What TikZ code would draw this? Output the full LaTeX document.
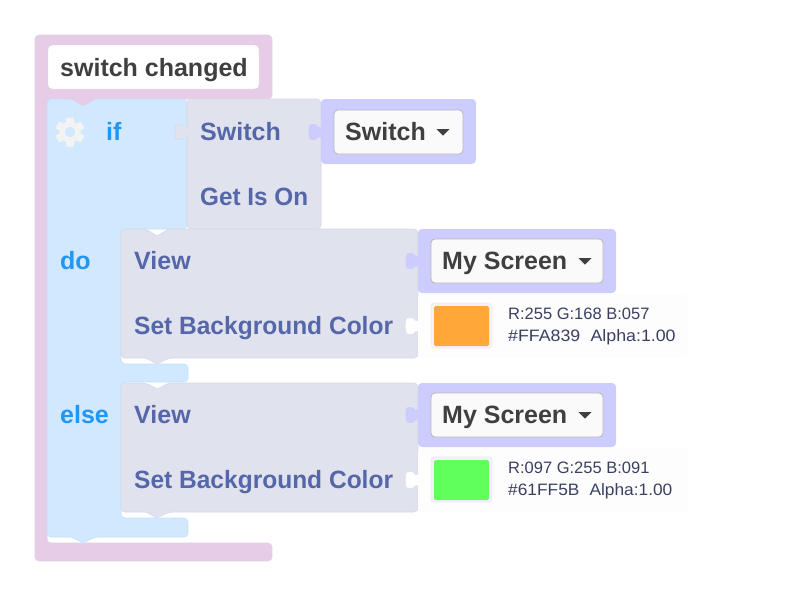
\documentclass[tikz,border=0pt]{standalone}
\usepackage{fontspec}
\setmainfont{Liberation Sans}
\definecolor{pinkb}{HTML}{E6CCE6}
\definecolor{pinke}{HTML}{E2D0E6}
\definecolor{blueb}{HTML}{D1E8FF}
\definecolor{bluee}{HTML}{C4DFF8}
\definecolor{grayb}{HTML}{E0E2EE}
\definecolor{graye}{HTML}{D6D9EA}
\definecolor{lavb}{HTML}{CCCCFF}
\definecolor{labc}{HTML}{5567A9}
\definecolor{ctrl}{HTML}{2196F3}
\definecolor{dark}{HTML}{3F3F3F}
\definecolor{info}{HTML}{3A4060}
\definecolor{panel}{HTML}{FDFDFE}
\definecolor{gear}{HTML}{F3F3F3}
\tikzset{
  shapeb/.style={rounded corners=4pt,line width=0.6pt},
  txt/.style={anchor=base west,inner sep=0pt,font=\fontsize{25}{25}\selectfont\bfseries},
  lab/.style={txt,text=labc},
  kw/.style={txt,text=ctrl},
  drk/.style={txt,text=dark},
  inf/.style={anchor=base west,inner sep=0pt,font=\fontsize{16.5}{16.5}\selectfont,text=info},
  dropb/.style={fill=white!98!black,draw=black!28,line width=0.8pt,rounded corners=4pt},
}
\newcommand{\lefttab}[4]{% x of edge, y centre, fill, draw
  \path[fill=#3,draw=#4,line width=0.5pt] (#1+1,#2-5) -- (#1-3,#2-5) .. controls (#1-4,#2-8) and (#1-9,#2-8.5) .. (#1-11,#2-7) .. controls (#1-12.5,#2-4) and (#1-12.5,#2+4) .. (#1-11,#2+7) .. controls (#1-9,#2+8.5) and (#1-4,#2+8) .. (#1-3,#2+5) -- (#1+1,#2+5);
}
\newcommand{\caret}[2]{\fill[dark] (#1-6.5,#2-3) -- (#1+6.5,#2-3) -- (#1,#2+3.5) -- cycle;}
\begin{document}
\begin{tikzpicture}[x=1pt,y=-1pt]
\useasboundingbox (0,0) rectangle (788,590);
% outer pink
\path[shapeb,fill=pinkb,draw=pinke] (35,35) -- (272,35) -- (272,99) -- (95,99) [rounded corners=1.5pt] -- (83,106) -- (72,99) [rounded corners=4pt] -- (47,99) -- (47,543) -- (272,543) -- (272,561) -- (35,561) -- cycle;
\node[fill=white,draw=pinke,rounded corners=4pt,minimum width=211pt,minimum height=44pt,inner sep=0pt] (evt) at (153.5,67) {};
\node[drk] (evttxt) at (60,76) {switch changed};
% blue
\path[shapeb,fill=blueb,draw=bluee] (47,99) -- (72,99) [rounded corners=1.5pt] -- (83,106) -- (95,99) [rounded corners=4pt] -- (187,99) -- (187,229) -- (121,229) -- (121,364) -- (188,364) -- (188,382) -- (121,382) -- (121,518) -- (188,518) -- (188,537) -- (95,537) [rounded corners=1.5pt] -- (83,543) -- (72,537) [rounded corners=4pt] -- (47,537) -- cycle;
% re-lay the pink notch on top of the blue
\fill[pinkb,rounded corners=1.2pt] (71,98.6) -- (83,106) -- (96,98.6) -- cycle;
% gear
\foreach \a in {0,60,...,300}{\fill[gear,rounded corners=1pt,rotate around={\a:(70,132)}] (66,117.5) rectangle (74,124);}
\fill[gear] (70,132) circle (10.8pt);
\fill[blueb] (70,132) circle (5.2pt);
\node[kw] (ifk) at (106,140) {if};
\node[kw] (dok) at (60,269) {do};
\node[kw] (elsek) at (60,423) {else};
% getter block
\path[shapeb,fill=grayb,draw=graye] (187,99) -- (321,99) -- (321,229) -- (187,229) -- cycle;
\lefttab{187}{132}{grayb}{graye}
\node[lab] (sw) at (200,140) {Switch};
\node[lab] (get) at (200,205) {\scalebox{0.972}[1]{Get Is On}};
% lavender switch
\lefttab{321}{132}{lavb}{lavb}
\path[shapeb,fill=lavb] (321,99) rectangle (476,164);
\node[dropb,minimum width=129pt,minimum height=44pt,inner sep=0pt] (dd1) at (398.5,132) {};
\node[drk] (dd1t) at (345,140) {Switch};
\caret{443}{132}
% do block
\path[shapeb,fill=grayb,draw=graye] (121,229) -- (146,229) [rounded corners=1.5pt] -- (157,236) -- (169,229) [rounded corners=4pt] -- (418,229) -- (418,358) -- (169,358) [rounded corners=1.5pt] -- (157,364) -- (146,358) [rounded corners=4pt] -- (121,358) -- cycle;
\node[lab] (v1) at (134,269) {View};
\node[lab] (s1) at (134,334) {\scalebox{0.981}[1]{Set Background Color}};
\fill[panel,rounded corners=3pt] (418,294) rectangle (688,358);
\lefttab{418}{326}{white}{white}
\lefttab{418}{261}{lavb}{lavb}
\path[shapeb,fill=lavb] (418,229) rectangle (616,293);
\node[dropb,minimum width=172pt,minimum height=44pt,inner sep=0pt] (dd2) at (517,261) {};
\node[drk] (dd2t) at (442,269) {My Screen};
\caret{585}{261}
\node[fill=white!95!blue,draw=orange!15,line width=0.7pt,rounded corners=3pt,minimum width=61pt,minimum height=45pt,inner sep=0pt] (sw1o) at (461.5,325.5) {};
\node[fill={rgb,255:red,255;green,168;blue,57},rounded corners=1.5pt,minimum width=55pt,minimum height=40pt,inner sep=0pt] (sw1) at (461.5,326) {};
\node[inf] (r1) at (508,319) {R:255 G:168 B:057};
\node[inf] (h1) at (508,341.5) {\scalebox{1.077}[1]{\#FFA839\hspace{5pt} Alpha:1.00}};
% else block
\path[shapeb,fill=grayb,draw=graye] (121,383) -- (146,383) [rounded corners=1.5pt] -- (157,389) -- (169,383) [rounded corners=4pt] -- (418,383) -- (418,512) -- (169,512) [rounded corners=1.5pt] -- (157,518) -- (146,512) [rounded corners=4pt] -- (121,512) -- cycle;
\node[lab] (v2) at (134,423) {View};
\node[lab] (s2) at (134,488) {\scalebox{0.981}[1]{Set Background Color}};
\fill[panel,rounded corners=3pt] (418,448) rectangle (688,512);
\lefttab{418}{480}{white}{white}
\lefttab{418}{415}{lavb}{lavb}
\path[shapeb,fill=lavb] (418,383) rectangle (616,447);
\node[dropb,minimum width=172pt,minimum height=44pt,inner sep=0pt] (dd3) at (517,415) {};
\node[drk] (dd3t) at (442,423) {My Screen};
\caret{585}{415}
\node[fill=white!95!blue,draw=black!8,line width=0.7pt,rounded corners=3pt,minimum width=61pt,minimum height=45pt,inner sep=0pt] (sw2o) at (461.5,479.5) {};
\node[fill={rgb,255:red,97;green,255;blue,91},rounded corners=1.5pt,minimum width=55pt,minimum height=40pt,inner sep=0pt] (sw2) at (461.5,480) {};
\node[inf] (r2) at (508,473) {R:097 G:255 B:091};
\node[inf] (h2) at (508,495.5) {\scalebox{1.05}[1]{\#61FF5B\hspace{5pt} Alpha:1.00}};
\end{tikzpicture}
\end{document}
